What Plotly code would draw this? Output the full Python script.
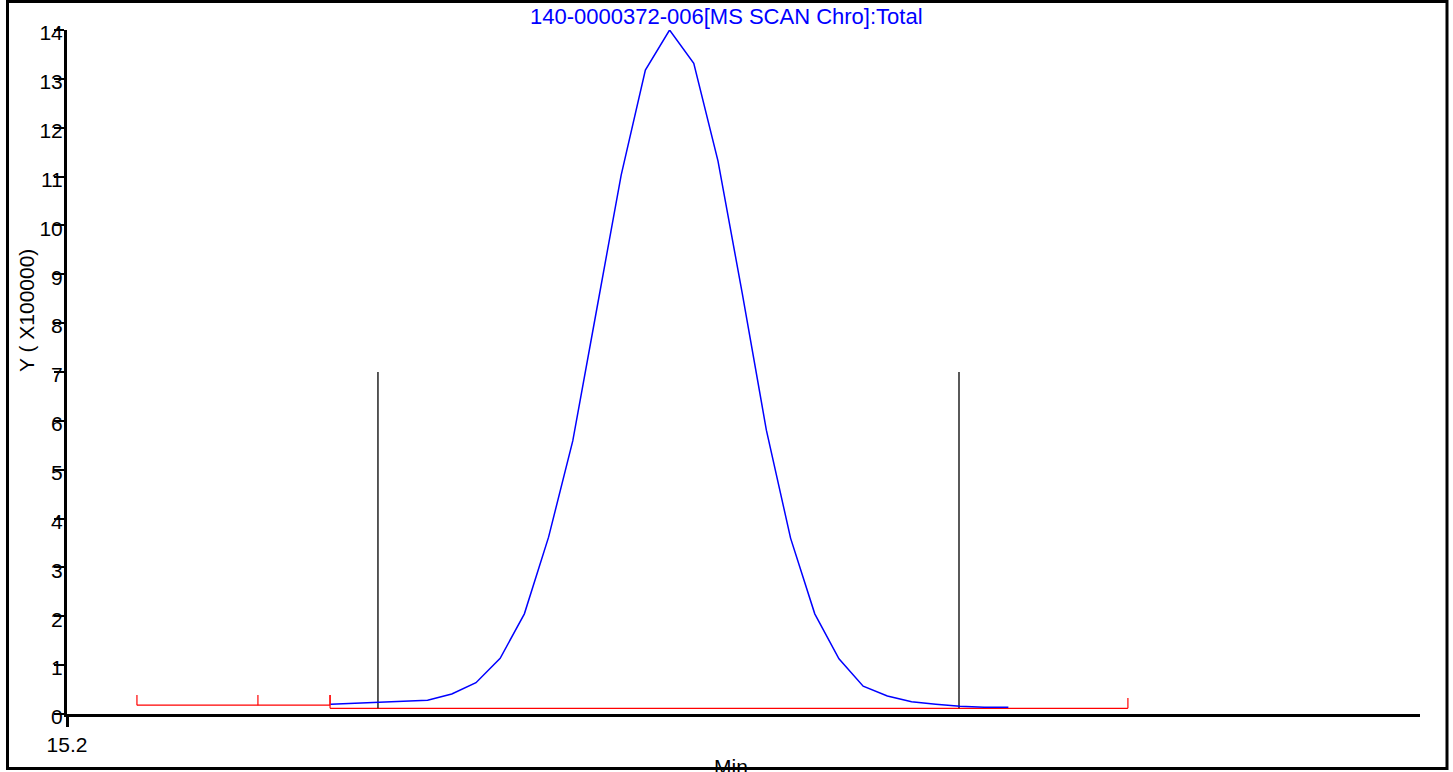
import plotly.graph_objects as go

# Total ion chromatogram, scans every 0.01 min
scan_start = 15.309
scan_step = 0.01
intensity = [0.20, 0.22, 0.24, 0.26, 0.28, 0.41, 0.64, 1.14, 2.05, 3.62,
             5.59, 8.31, 11.03, 13.18, 14.00, 13.32, 11.32, 8.62, 5.81, 3.60,
             2.05, 1.13, 0.57, 0.37, 0.25, 0.20, 0.16, 0.14, 0.14]
times = [round(scan_start + i * scan_step, 4) for i in range(len(intensity))]

# Peak window markers (min) and their height
window_marks = [15.3285, 15.5686]
window_low = 0.117
window_high = 7.0

# Integration baselines (min, intensity)
base1_x = [15.2289, 15.2789, 15.3087]
base1_y = 0.18
base1_tick_top = 0.39
base2_x = [15.3087, 15.6384]
base2_y = 0.117
base2_tick_top = [0.39, 0.33]

# Axis settings
x_start = 15.2
x_end = 15.7591
y_ticks = list(range(0, 15))

FONT = "Liberation Sans, Arial, sans-serif"
BLUE = "#0000ff"
RED = "#ff0000"

fig = go.Figure()

# Baseline 1 with its drop ticks
bx, by = [], []
bx += [base1_x[0], base1_x[-1], None]
by += [base1_y, base1_y, None]
for xv in base1_x:
    bx += [xv, xv, None]
    by += [base1_y, base1_tick_top, None]
# Baseline 2 with end ticks
bx += [base2_x[0], base2_x[-1], None]
by += [base2_y, base2_y, None]
for xv, top in zip(base2_x, base2_tick_top):
    bx += [xv, xv, None]
    by += [base2_y, top, None]
fig.add_trace(go.Scatter(x=bx, y=by, mode="lines",
                         line=dict(color=RED, width=1.2),
                         hoverinfo="skip", cliponaxis=False))

# Window markers
wx, wy = [], []
for xv in window_marks:
    wx += [xv, xv, None]
    wy += [window_low, window_high, None]
fig.add_trace(go.Scatter(x=wx, y=wy, mode="lines",
                         line=dict(color="black", width=1.3),
                         hoverinfo="skip", cliponaxis=False))

# Chromatogram trace
fig.add_trace(go.Scatter(x=times, y=intensity, mode="lines",
                         line=dict(color=BLUE, width=1.5),
                         cliponaxis=False))

L, R, T, B = 67, 33, 30, 58
W, H = 1453, 772
pw, ph = W - L - R, H - T - B


def px(xp):
    return (xp - L) / pw


def py(yp):
    return (H - B - yp) / ph


fig.update_layout(
    width=W, height=H,
    margin=dict(l=L, r=R, t=T, b=B),
    paper_bgcolor="white", plot_bgcolor="white",
    showlegend=False,
    font=dict(family=FONT, size=21, color="black"),
    xaxis=dict(range=[x_start, x_end], showgrid=False, zeroline=False,
               showline=True, linewidth=3, linecolor="black",
               ticks="outside", ticklen=10, tickwidth=3, tickcolor="black",
               tickvals=[x_start], ticktext=["15.2"],
               tickfont=dict(family=FONT, size=21, color="black")),
    yaxis=dict(range=[0, 14], showgrid=False, zeroline=False,
               showline=True, linewidth=3, linecolor="black",
               ticks="outside", ticklen=10, tickwidth=2, tickcolor="black",
               tickvals=y_ticks, ticktext=[str(v) for v in y_ticks],
               ticklabelstandoff=-13, ticklabelshift=3,
               tickfont=dict(family=FONT, size=21, color="black")),
    shapes=[dict(type="rect", xref="paper", yref="paper",
                 x0=px(7.5), x1=px(1447), y0=py(768.5), y1=py(1.5),
                 line=dict(color="black", width=3), layer="above")],
    annotations=[
        dict(text="140-0000372-006[MS SCAN Chro]:Total", xref="paper", yref="paper",
             x=px(726.5), y=py(17), xanchor="center", yanchor="middle",
             showarrow=False, font=dict(family=FONT, size=22, color=BLUE)),
        dict(text="Y ( X100000)", xref="paper", yref="paper",
             x=px(26), y=py(311), xanchor="center", yanchor="middle",
             textangle=-90, showarrow=False,
             font=dict(family=FONT, size=21, color="black")),
        dict(text="Min", xref="paper", yref="paper",
             x=px(731), y=py(766), xanchor="center", yanchor="middle",
             showarrow=False, font=dict(family=FONT, size=21, color="black")),
    ],
)

fig.write_html("out.html")
